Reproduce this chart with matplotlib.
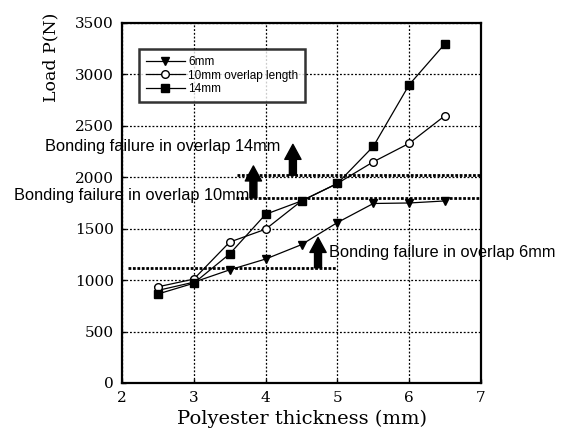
import numpy as np
import matplotlib
matplotlib.use("Agg")
import matplotlib.pyplot as plt

# data
thickness = [2.5, 3.0, 3.5, 4.0, 4.5, 5.0, 5.5, 6.0, 6.5]
load_6mm = [900, 980, 1100, 1205, 1345, 1560, 1745, 1750, 1770]
load_10mm = [935, 1010, 1370, 1495, 1770, 1940, 2150, 2330, 2600]
load_14mm = [865, 970, 1255, 1640, 1770, 1940, 2300, 2900, 3300]
labels = ["6mm", "10mm overlap length", "14mm"]

# failure levels: label, level, line start/end, arrow x, arrow top
fail_text = ["Bonding failure in overlap 14mm",
             "Bonding failure in overlap 10mm",
             "Bonding failure in overlap 6mm"]
fail_level = [2020, 1800, 1120]
fail_x0 = [3.6, 3.59, 2.08]
fail_x1 = [7.0, 7.0, 5.0]
arrow_x = [4.38, 3.83, 4.73]
arrow_top = [2320, 2110, 1415]

serif = "DejaVu Serif"
sans = "Liberation Sans"

fig = plt.figure(figsize=(5.63, 4.36), dpi=100)
ax = fig.add_axes([0.2167, 0.1216, 0.6377, 0.8257])

ax.plot(thickness, load_6mm, "k-", lw=0.9, marker="v", ms=5.5, label=labels[0])
ax.plot(thickness, load_10mm, "k-", lw=0.9, marker="o", ms=5.5, mfc="white",
        mew=1.0, label=labels[1])
ax.plot(thickness, load_14mm, "k-", lw=0.9, marker="s", ms=5.5, label=labels[2])

ax.set_xlim(2, 7)
ax.set_ylim(0, 3500)
ax.set_xticks(range(2, 8))
ax.set_yticks(range(0, 3501, 500))
ax.grid(True, color="black", ls=(0, (1.5, 1.5)), lw=0.9)
for sp in ax.spines.values():
    sp.set_linewidth(1.6)
ax.tick_params(direction="in", length=3, width=1, labelsize=11, pad=6)
for lab in ax.get_xticklabels() + ax.get_yticklabels():
    lab.set_family(serif)

ax.set_xlabel("Polyester thickness (mm)", family=serif, fontsize=14, labelpad=3)
ax.set_ylabel("Load P(N)", family=serif, fontsize=12.5)
ax.yaxis.set_label_coords(-0.175, 0.905)

# failure lines, arrows and labels
for i in range(3):
    ax.plot([fail_x0[i], fail_x1[i]], [fail_level[i], fail_level[i]],
            color="black", lw=2.0, ls=(0, (1, 0.6)), clip_on=False, zorder=3)
    ax.annotate("", xy=(arrow_x[i], arrow_top[i]), xytext=(arrow_x[i], fail_level[i]),
                arrowprops=dict(arrowstyle="simple,head_length=0.6,head_width=0.65,tail_width=0.28",
                                fc="black", ec="black", mutation_scale=18, shrinkA=0, shrinkB=0),
                zorder=4)

ax.text(4.21, 2300, fail_text[0], ha="right", va="center", family=sans, fontsize=11.8)
ax.text(3.78, 1822, fail_text[1], ha="right", va="center", family=sans, fontsize=11.8)
ax.text(4.88, 1270, fail_text[2], ha="left", va="center", family=sans, fontsize=11.8)

leg = ax.legend(loc="upper left", bbox_to_anchor=(0.03, 0.945), prop={"family": sans, "size": 8.5},
                frameon=True, fancybox=False, edgecolor="black", handlelength=3.3,
                labelspacing=0.15, borderpad=0.6, handletextpad=0.3, shadow=False)
leg.get_frame().set_linewidth(1.8)

fig.savefig("out.png", dpi=100)
